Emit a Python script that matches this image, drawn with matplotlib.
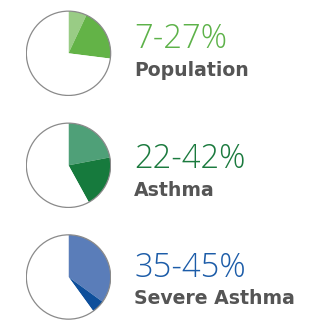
import matplotlib
matplotlib.use("Agg")
import matplotlib.pyplot as plt
from matplotlib.patches import Circle

# shares of each pie (percent, clockwise from 12 o'clock)
pop_shares = [7, 20, 73]
asthma_shares = [22, 20, 58]
severe_shares = [35, 5, 60]

pop_colors = ["#99cc85", "#63b347", "white"]
asthma_colors = ["#4fa078", "#167a3d", "white"]
severe_colors = ["#5a7db9", "#0e4f9b", "white"]

ranges = ["7-27%", "22-42%", "35-45%"]
names = ["Population", "Asthma", "Severe Asthma"]
text_colors = ["#5db249", "#1b7a3e", "#1c5ca8"]

W, H = 312, 320
fig = plt.figure(figsize=(W / 100, H / 100), dpi=100)

centers_y = [53.3, 165.3, 277.0]
r = 43
pies = [(pop_shares, pop_colors), (asthma_shares, asthma_colors), (severe_shares, severe_colors)]

for (shares, cols), cy in zip(pies, centers_y):
    ax = fig.add_axes([(68.5 - r) / W, (H - cy - r) / H, 2 * r / W, 2 * r / H])
    ax.pie(shares, colors=cols, startangle=90, counterclock=False, radius=1,
           wedgeprops=dict(linewidth=0))
    ax.add_patch(Circle((0, 0), 1, fill=False, edgecolor="#8a8a8a", linewidth=0.9))
    ax.set_xlim(-1.02, 1.02)
    ax.set_ylim(-1.02, 1.02)
    ax.set_aspect("equal")
    ax.axis("off")

big_base = [48.3, 167.7, 277.3]
small_base = [75.7, 196.0, 304.0]
for i in range(3):
    fig.text(134 / W, 1 - big_base[i] / H, ranges[i], color=text_colors[i],
             fontsize=23.5, fontfamily="Open Sans", fontweight="light", va="baseline")
    fig.text(134 / W, 1 - small_base[i] / H, names[i], color="#555555",
             fontsize=13.6, fontfamily="DejaVu Sans", fontweight="bold", va="baseline")

fig.savefig("out.png", dpi=100)
